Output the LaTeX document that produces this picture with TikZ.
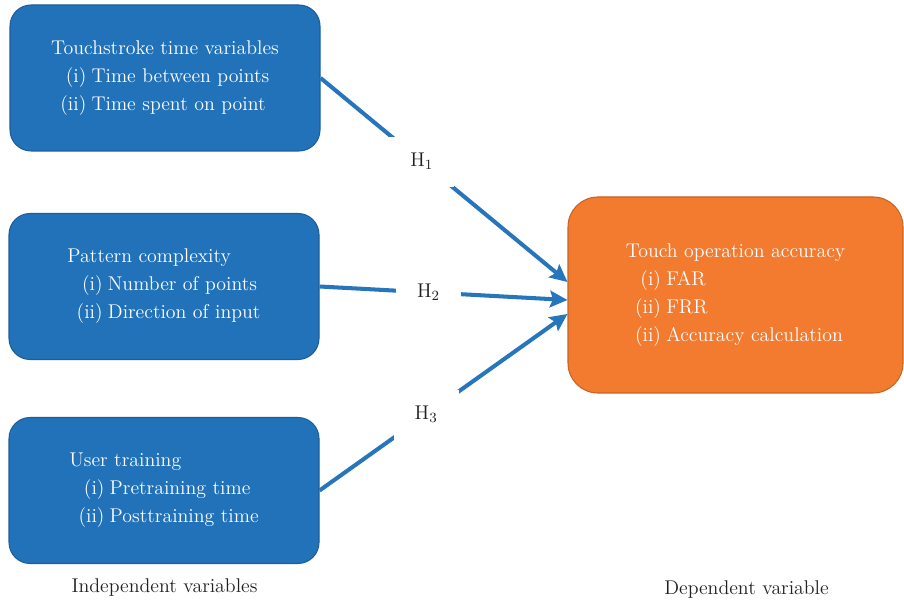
\documentclass[tikz,border=0pt]{standalone}
\usepackage{tikz}
\usetikzlibrary{shapes,arrows.meta,positioning,calc}
\definecolor{boxblue}{HTML}{2272BA}
\definecolor{boxblueline}{HTML}{1D5E9A}
\definecolor{boxorange}{HTML}{F27B30}
\definecolor{boxorangeline}{HTML}{C8641F}
\definecolor{linkblue}{HTML}{2775BD}
\definecolor{labelgray}{HTML}{231F20}
\newcommand{\itm}[2]{\makebox[20pt][r]{#1}\hspace{3pt}#2}

\begin{document}
\begin{tikzpicture}[
    varbox/.style={rectangle, draw=boxblueline, fill=boxblue, line width=0.6pt, rounded corners=12pt, minimum width=6.2cm, minimum height=2.92cm, align=left, text=white, font=\fontsize{11.3pt}{15.9pt}\selectfont},
    accbox/.style={rectangle, draw=boxorangeline, fill=boxorange, line width=0.6pt, rounded corners=17pt, minimum width=6.7cm, minimum height=3.92cm, align=left, text=white, font=\fontsize{11.3pt}{15.9pt}\selectfont},
    link/.style={-{Stealth[length=10pt, width=9.5pt, inset=1.8pt]}, line width=2.3pt, draw=linkblue},
    hyp/.style={rectangle, fill=white, minimum width=1.3cm, minimum height=1.0cm, text=labelgray, font=\fontsize{11.3pt}{13pt}\selectfont},
    caption/.style={text=labelgray, font=\fontsize{11.3pt}{13pt}\selectfont}
]
    \useasboundingbox (0,0) rectangle (18.08,12.1);

    % Independent variables
    \node[varbox] (touch) at (3.3,10.54) {Touchstroke time variables\\ \itm{(i)}{Time between points}\\ \itm{(ii)}{Time spent on point}};
    \node[varbox] (pattern) at (3.28,6.37) {Pattern complexity\\ \itm{(i)}{Number of points}\\ \itm{(ii)}{Direction of input}};
    \node[varbox] (training) at (3.28,2.29) {User training\\ \itm{(i)}{Pretraining time}\\ \itm{(ii)}{Posttraining time}};

    % Dependent variable
    \node[accbox] (accuracy) at (14.71,6.2) {Touch operation accuracy\\ \itm{(i)}{FAR}\\ \itm{(ii)}{FRR}\\ \itm{(ii)}{Accuracy calculation}};

    % Arrow ends on the dependent box
    \coordinate (end1) at ($(accuracy.west)+(0,0.26)$);
    \coordinate (end2) at ($(accuracy.west)+(0,-0.1)$);
    \coordinate (end3) at ($(accuracy.west)+(0,-0.38)$);

    % Hypotheses
    \draw[link] (touch.east) -- (end1) node[hyp, pos=0.41] (h1) {H$_1$};
    \draw[link] (pattern.east) -- (end2) node[hyp, pos=0.44] (h2) {H$_2$};
    \draw[link] (training.east) -- (end3) node[hyp, pos=0.43] (h3) {H$_3$};

    % Captions
    \node[caption] (indep) at (3.29,0.34) {Independent variables};
    \node[caption] (dep) at (14.93,0.3) {Dependent variable};
\end{tikzpicture}
\end{document}
